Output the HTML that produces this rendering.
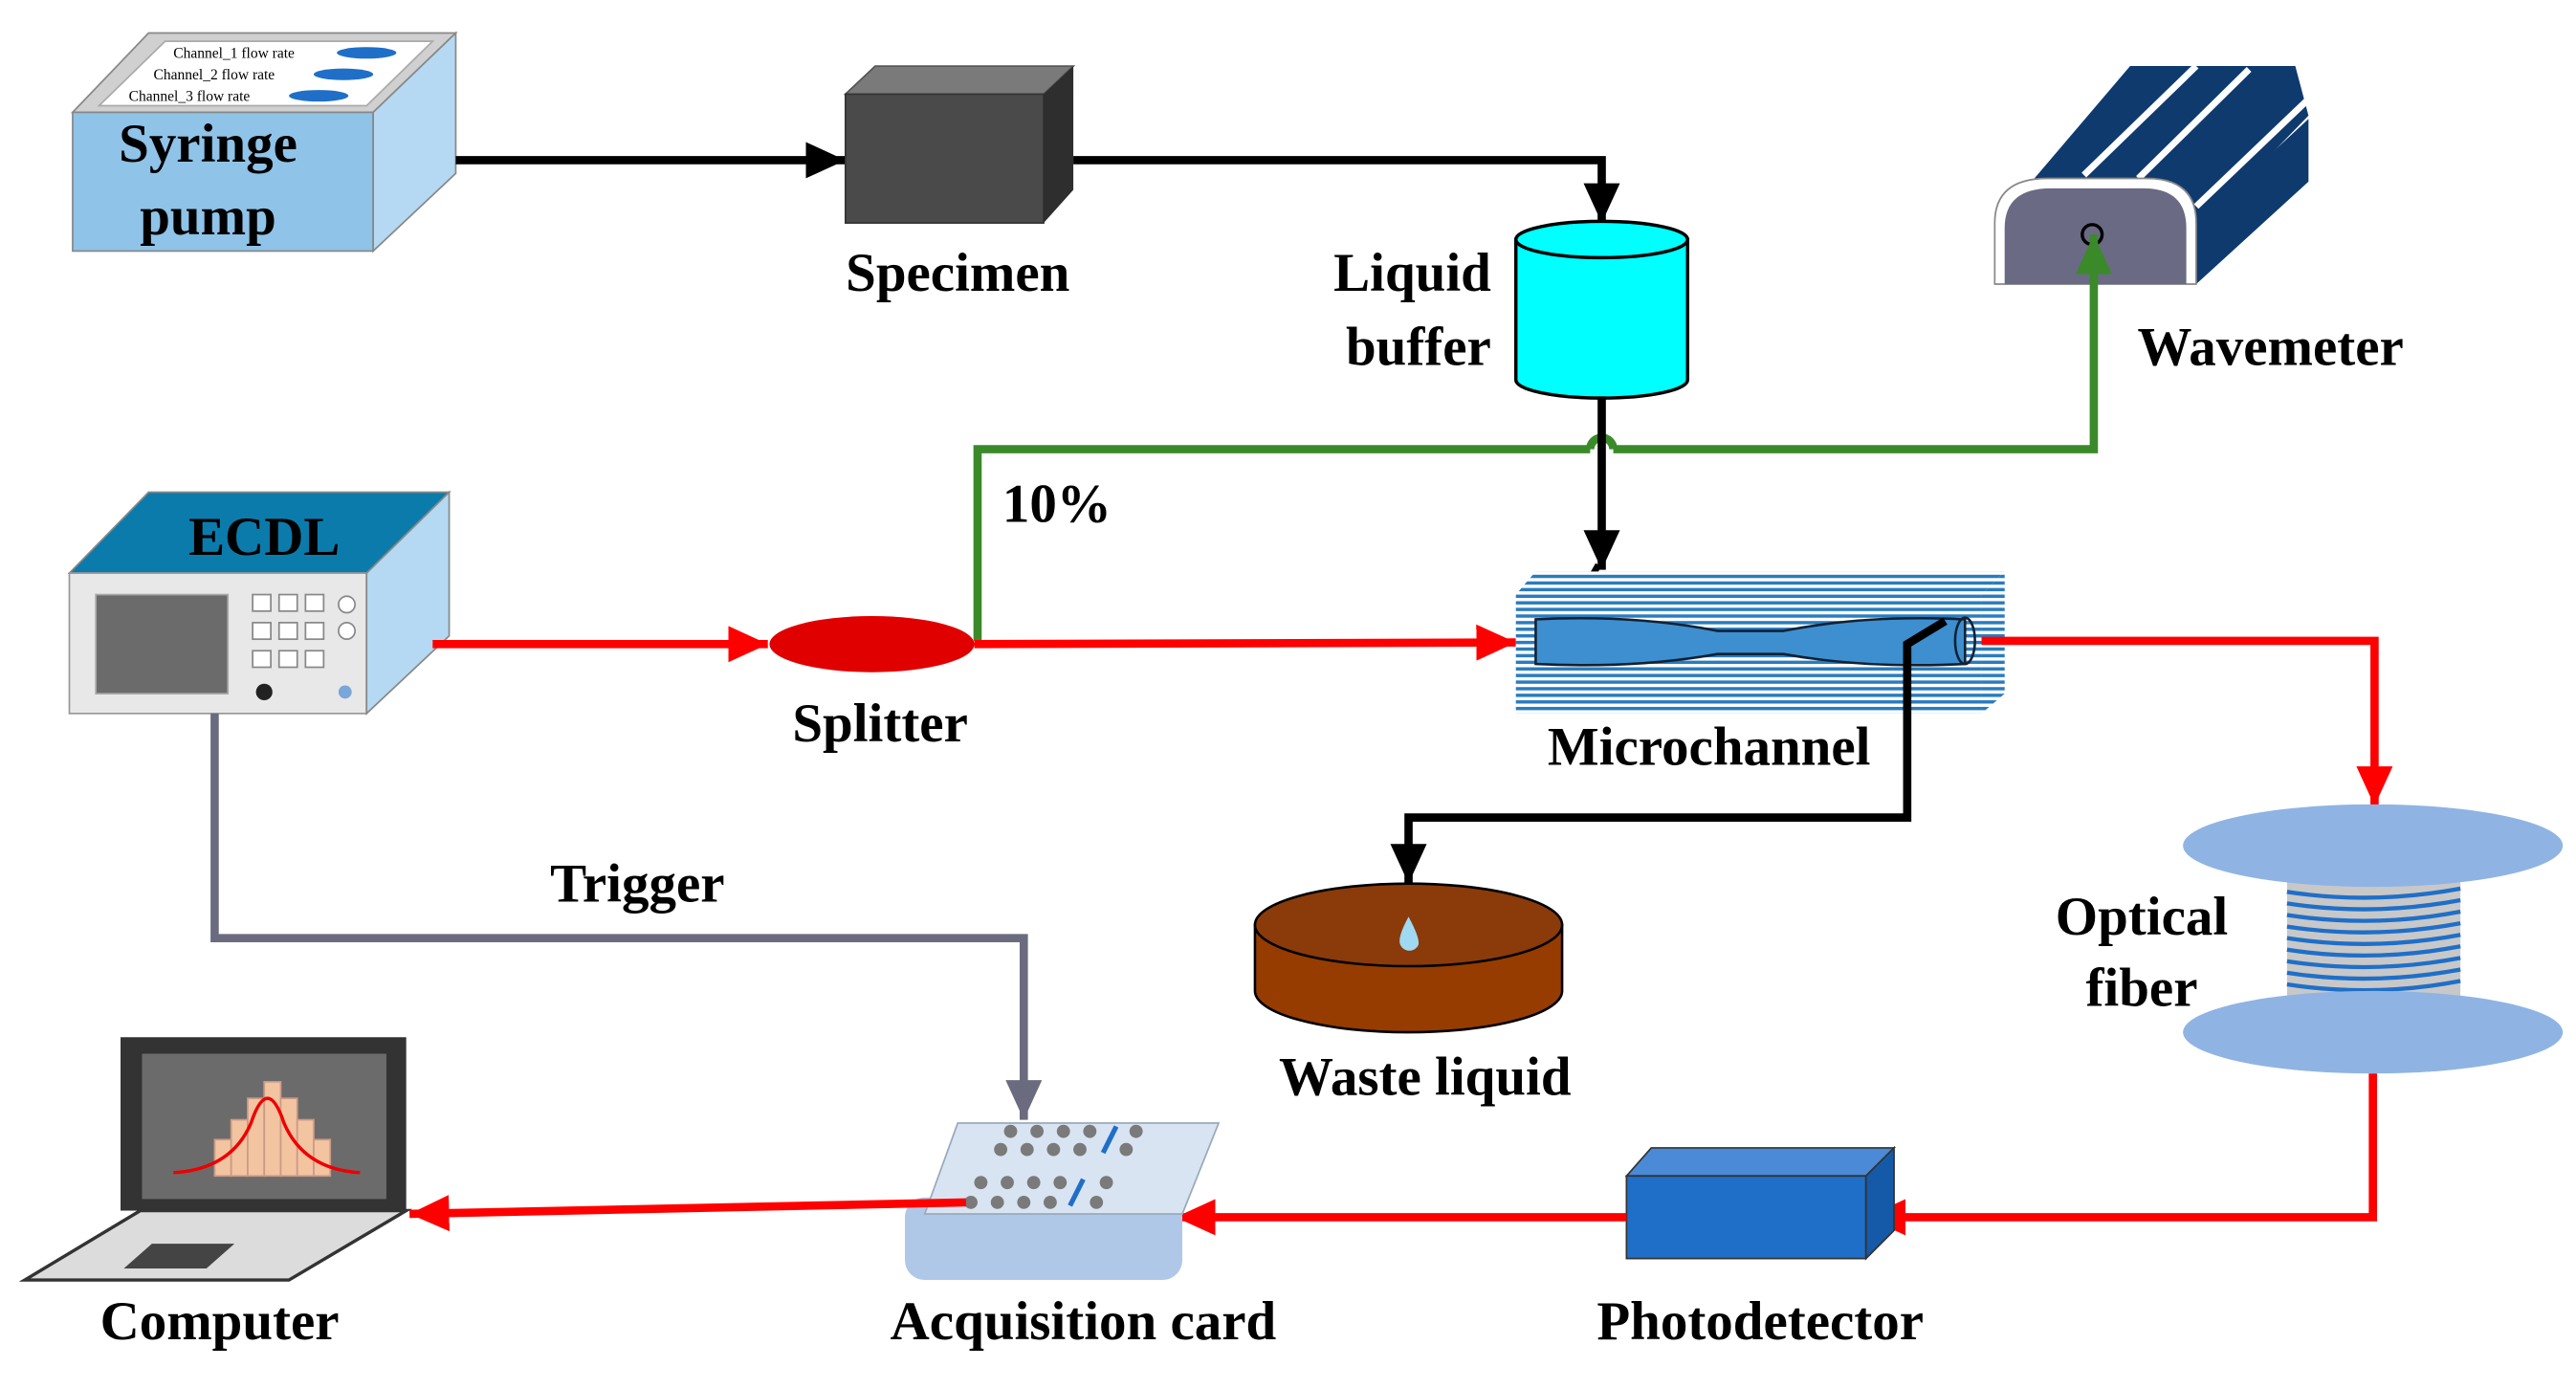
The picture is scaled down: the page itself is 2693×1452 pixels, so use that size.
<!DOCTYPE html>
<html><head><meta charset="utf-8"><style>
html,body{margin:0;padding:0;background:#fff;width:2693px;height:1452px;overflow:hidden}
svg{display:block}
text{font-family:"Liberation Serif",serif;font-weight:bold;fill:#000}
</style></head><body>
<svg width="2693" height="1452" viewBox="0 0 1560 841" preserveAspectRatio="none" xmlns="http://www.w3.org/2000/svg">
<defs>
<marker id="ak" markerWidth="24" markerHeight="22" refX="8" refY="4" orient="auto" markerUnits="userSpaceOnUse" viewBox="0 0 8 8" preserveAspectRatio="none"><path d="M0,0L8,4L0,8z" fill="#000"/></marker>
<marker id="ar" markerWidth="24" markerHeight="22" refX="8" refY="4" orient="auto" markerUnits="userSpaceOnUse" viewBox="0 0 8 8" preserveAspectRatio="none"><path d="M0,0L8,4L0,8z" fill="#f00"/></marker>
<marker id="ag" markerWidth="24" markerHeight="22" refX="8" refY="4" orient="auto" markerUnits="userSpaceOnUse" viewBox="0 0 8 8" preserveAspectRatio="none"><path d="M0,0L8,4L0,8z" fill="#3a8a2a"/></marker>
<marker id="ay" markerWidth="24" markerHeight="22" refX="8" refY="4" orient="auto" markerUnits="userSpaceOnUse" viewBox="0 0 8 8" preserveAspectRatio="none"><path d="M0,0L8,4L0,8z" fill="#6b6b80"/></marker>
<pattern id="st" width="6" height="4" patternUnits="userSpaceOnUse"><rect width="6" height="4" fill="#fff"/><rect width="6" height="2" fill="#2a7bc0"/></pattern>
</defs>
<!-- Syringe pump -->
<polygon points="44,68 90,20 276,20 226,68" fill="#d0d0d0" stroke="#888"/>
<polygon points="60,64 100,25 262,25 222,64" fill="#fff" stroke="#aaa"/>
<text x="105" y="35" style="font-size:9px;font-weight:normal">Channel_1   flow rate</text>
<text x="93" y="48" style="font-size:9px;font-weight:normal">Channel_2   flow rate</text>
<text x="78" y="61" style="font-size:9px;font-weight:normal">Channel_3   flow rate</text>
<ellipse cx="222" cy="32" rx="18" ry="3.5" fill="#1f6fc8"/><ellipse cx="208" cy="45" rx="18" ry="3.5" fill="#1f6fc8"/><ellipse cx="193" cy="58" rx="18" ry="3.5" fill="#1f6fc8"/>
<rect x="44" y="68" width="182" height="84" fill="#8fc3e8" stroke="#888"/>
<polygon points="226,68 276,20 276,105 226,152" fill="#b5d9f2" stroke="#888"/>
<text x="126" y="98" text-anchor="middle" font-size="33">Syringe</text>
<text x="126" y="142" text-anchor="middle" font-size="33">pump</text>
<line x1="276" y1="97" x2="512" y2="97" stroke="#000" stroke-width="5" marker-end="url(#ak)"/>
<!-- Specimen -->
<polygon points="512,57 530,40 650,40 632,57" fill="#7a7a7a" stroke="#555"/>
<rect x="512" y="57" width="120" height="78" fill="#4a4a4a" stroke="#333"/>
<polygon points="632,57 650,40 650,115 632,135" fill="#2e2e2e"/>
<text x="580" y="176" text-anchor="middle" font-size="33">Specimen</text>
<polyline points="650,97 970,97 970,135" fill="none" stroke="#000" stroke-width="5" marker-end="url(#ak)"/>
<!-- Liquid buffer -->
<path d="M918,145 L918,230 A52,11 0 0 0 1022,230 L1022,145 Z" fill="#00ffff" stroke="#000" stroke-width="2"/>
<ellipse cx="970" cy="145" rx="52" ry="11" fill="#00ffff" stroke="#000" stroke-width="2"/>
<text x="903" y="176" text-anchor="end" font-size="33">Liquid</text>
<text x="903" y="221" text-anchor="end" font-size="33">buffer</text>
<!-- Wavemeter -->
<polygon points="1232,108 1290,40 1390,40 1398,70 1330,140 1300,110" fill="#0e3a6e"/>
<line x1="1262" y1="106" x2="1330" y2="40" stroke="#fff" stroke-width="4"/>
<line x1="1295" y1="108" x2="1362" y2="42" stroke="#fff" stroke-width="4"/>
<line x1="1330" y1="125" x2="1398" y2="60" stroke="#fff" stroke-width="4"/>
<polygon points="1330,135 1398,72 1398,110 1330,172" fill="#0e3a6e"/>
<path d="M1208,172 L1208,135 Q1208,108 1240,108 L1300,108 Q1330,108 1330,135 L1330,172 Z" fill="#fff" stroke="#888"/>
<path d="M1214,172 L1214,138 Q1214,114 1242,114 L1298,114 Q1324,114 1324,138 L1324,172 Z" fill="#6a6a84"/>
<circle cx="1267" cy="142" r="6" fill="none" stroke="#000" stroke-width="2"/>
<text x="1375" y="221" text-anchor="middle" font-size="33">Wavemeter</text>
<!-- Green line -->
<polyline points="592,388 592,272 963,272" fill="none" stroke="#3a8a2a" stroke-width="5"/>
<path d="M963,272 A7,7 0 0 1 977,272" fill="none" stroke="#3a8a2a" stroke-width="5"/>
<polyline points="977,272 1268,272 1268,142" fill="none" stroke="#3a8a2a" stroke-width="5" marker-end="url(#ag)"/>
<text x="640" y="316" text-anchor="middle" font-size="33">10%</text>
<polyline points="970,240 970,345" fill="none" stroke="#000" stroke-width="5" marker-end="url(#ak)"/>
<line x1="968" y1="342" x2="960" y2="356" stroke="#000" stroke-width="4"/>
<!-- ECDL -->
<polygon points="42,347 90,298 272,298 222,347" fill="#0b7bab" stroke="#888"/>
<rect x="42" y="347" width="180" height="85" fill="#e8e8e8" stroke="#999"/>
<polygon points="222,347 272,298 272,385 222,432" fill="#b5d9f2" stroke="#888"/>
<rect x="58" y="360" width="80" height="60" fill="#6b6b6b" stroke="#aaa"/>
<g fill="#fff" stroke="#888">
<rect x="153" y="360" width="11" height="10"/><rect x="169" y="360" width="11" height="10"/><rect x="185" y="360" width="11" height="10"/>
<rect x="153" y="377" width="11" height="10"/><rect x="169" y="377" width="11" height="10"/><rect x="185" y="377" width="11" height="10"/>
<rect x="153" y="394" width="11" height="10"/><rect x="169" y="394" width="11" height="10"/><rect x="185" y="394" width="11" height="10"/>
<circle cx="210" cy="366" r="5"/><circle cx="210" cy="382" r="5"/></g>
<circle cx="160" cy="419" r="5" fill="#222"/><circle cx="209" cy="419" r="4" fill="#7aa6d9"/>
<text x="160" y="336" text-anchor="middle" font-size="33">ECDL</text>
<line x1="262" y1="390" x2="465" y2="390" stroke="#f00" stroke-width="5" marker-end="url(#ar)"/>
<ellipse cx="528" cy="390" rx="62" ry="17" fill="#e00000"/>
<text x="533" y="449" text-anchor="middle" font-size="33">Splitter</text>
<line x1="590" y1="390" x2="918" y2="389" stroke="#f00" stroke-width="5" marker-end="url(#ar)"/>
<!-- Microchannel -->
<polygon points="918,360 930,346 1214,346 1200,360" fill="url(#st)"/>
<polygon points="1200,360 1214,346 1214,420 1200,432" fill="url(#st)"/>
<rect x="918" y="360" width="282" height="72" fill="url(#st)"/>
<path d="M930,375 Q990,372 1040,382 L1080,382 Q1130,372 1190,375 L1190,402 Q1130,405 1080,396 L1040,396 Q990,405 930,402 Z" fill="#3d8fd0" stroke="#123" stroke-width="1.5"/>
<ellipse cx="1190" cy="388" rx="6" ry="14" fill="none" stroke="#123" stroke-width="1.5"/>
<text x="1035" y="463" text-anchor="middle" font-size="33">Microchannel</text>
<polyline points="1200,388 1438,388 1438,488" fill="none" stroke="#f00" stroke-width="5" marker-end="url(#ar)"/>
<polyline points="1178,376 1155,390 1155,495 853,495 853,535" fill="none" stroke="#000" stroke-width="5" marker-end="url(#ak)"/>
<!-- Waste liquid -->
<path d="M760,560 L760,600 A93,25 0 0 0 946,600 L946,560 Z" fill="#963c00" stroke="#000" stroke-width="1.5"/>
<ellipse cx="853" cy="560" rx="93" ry="25" fill="#8b3a0a" stroke="#000" stroke-width="1.5"/>
<path d="M853,555 Q846,568 848,572 A6,6 0 0 0 859,572 Q860,568 853,555Z" fill="#9fd9f2"/>
<text x="863" y="663" text-anchor="middle" font-size="33">Waste liquid</text>
<!-- Optical fiber -->
<rect x="1385" y="525" width="105" height="80" fill="#c8c8c8"/>
<g stroke="#1f6fc8" stroke-width="2.5" fill="none">
<path d="M1385,540 Q1437,548 1490,538"/><path d="M1385,547 Q1437,555 1490,545"/><path d="M1385,554 Q1437,562 1490,552"/><path d="M1385,561 Q1437,569 1490,559"/><path d="M1385,568 Q1437,576 1490,566"/><path d="M1385,575 Q1437,583 1490,573"/><path d="M1385,582 Q1437,590 1490,580"/><path d="M1385,589 Q1437,597 1490,587"/><path d="M1385,596 Q1437,604 1490,594"/></g>
<ellipse cx="1437" cy="512" rx="115" ry="25" fill="#8fb4e3"/>
<ellipse cx="1437" cy="625" rx="115" ry="25" fill="#8fb4e3"/>
<text x="1297" y="566" text-anchor="middle" font-size="33">Optical</text>
<text x="1297" y="609" text-anchor="middle" font-size="33">fiber</text>
<polyline points="1437,650 1437,737 1130,737" fill="none" stroke="#f00" stroke-width="5" marker-end="url(#ar)"/>
<!-- Photodetector -->
<polygon points="985,712 1000,695 1147,695 1130,712" fill="#4a8ad6" stroke="#333"/>
<rect x="985" y="712" width="145" height="50" fill="#1f6fc8" stroke="#333"/>
<polygon points="1130,712 1147,695 1147,745 1130,762" fill="#155aa8" stroke="#333"/>
<text x="1066" y="811" text-anchor="middle" font-size="33">Photodetector</text>
<line x1="985" y1="737" x2="712" y2="737" stroke="#f00" stroke-width="5" marker-end="url(#ar)"/>
<!-- Acquisition card -->
<rect x="548" y="725" width="168" height="50" rx="12" fill="#b0c8e8"/>
<polygon points="560,735 580,680 738,680 716,735" fill="#d8e4f2" stroke="#9ab"/>
<g fill="#7a7a7a">
<circle cx="612" cy="685" r="4"/><circle cx="628" cy="685" r="4"/><circle cx="644" cy="685" r="4"/><circle cx="660" cy="685" r="4"/><circle cx="688" cy="685" r="4"/>
<circle cx="606" cy="696" r="4"/><circle cx="622" cy="696" r="4"/><circle cx="638" cy="696" r="4"/><circle cx="654" cy="696" r="4"/><circle cx="682" cy="696" r="4"/>
<circle cx="594" cy="716" r="4"/><circle cx="610" cy="716" r="4"/><circle cx="626" cy="716" r="4"/><circle cx="642" cy="716" r="4"/><circle cx="670" cy="716" r="4"/>
<circle cx="588" cy="728" r="4"/><circle cx="604" cy="728" r="4"/><circle cx="620" cy="728" r="4"/><circle cx="636" cy="728" r="4"/><circle cx="664" cy="728" r="4"/></g>
<line x1="668" y1="698" x2="676" y2="682" stroke="#1f6fc8" stroke-width="3"/>
<line x1="648" y1="730" x2="656" y2="714" stroke="#1f6fc8" stroke-width="3"/>
<text x="656" y="811" text-anchor="middle" font-size="33">Acquisition card</text>
<line x1="585" y1="728" x2="248" y2="735" stroke="#f00" stroke-width="5" marker-end="url(#ar)"/>
<polyline points="130,432 130,568 620,568 620,678" fill="none" stroke="#6b6b80" stroke-width="5" marker-end="url(#ay)"/>
<text x="386" y="546" text-anchor="middle" font-size="33">Trigger</text>
<!-- Computer -->
<rect x="73" y="628" width="173" height="105" fill="#333"/>
<rect x="86" y="638" width="148" height="88" fill="#6b6b6b"/>
<g fill="#f2c4a0" stroke="#c98">
<rect x="130" y="690" width="10" height="22"/><rect x="140" y="678" width="10" height="34"/><rect x="150" y="665" width="10" height="47"/><rect x="160" y="655" width="10" height="57"/><rect x="170" y="665" width="10" height="47"/><rect x="180" y="678" width="10" height="34"/><rect x="190" y="690" width="10" height="22"/></g>
<path d="M105,710 Q140,708 152,680 Q162,650 172,680 Q184,708 218,710" fill="none" stroke="#e00" stroke-width="2"/>
<polygon points="15,775 85,733 246,733 175,775" fill="#dcdcdc" stroke="#333" stroke-width="2"/>
<polygon points="75,768 92,753 142,753 125,768" fill="#444"/>
<text x="133" y="811" text-anchor="middle" font-size="33">Computer</text>
</svg>
</body></html>
